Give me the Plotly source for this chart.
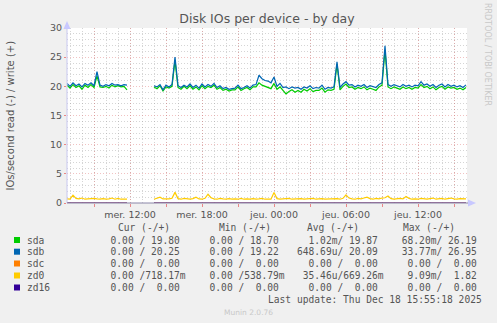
import plotly.graph_objects as go
import pandas as pd

# ---------------- data (15-minute samples, Wed 06:45 -> Thu 16:00) ----------------
start_time = "2025-12-17 06:45"
n_points = 134
times = pd.date_range(start_time, periods=n_points, freq="15min")

N = None
sdb = [20.5, 20.0, 20.6, 20.1, 20.4, 19.9, 20.5, 20.2, 20.6, 20.1,
       22.5, 20.2, 20.0, 20.3, 20.1, 20.5, 20.2, 20.3, 20.1, 20.3,
       20.2, N, N, N, N, N, N, N, N, 20.1,
       19.9, 20.3, 19.4, 20.2, 19.9, 20.3, 25.0, 20.1, 19.8, 20.2,
       19.9, 20.4, 19.8, 20.2, 19.7, 20.4, 19.9, 20.3, 20.0, 20.5,
       19.8, 20.1, 19.6, 19.8, 19.5, 19.6, 19.7, 20.2, 19.6, 19.8,
       20.1, 19.7, 20.2, 20.3, 21.9, 21.3, 21.0, 20.9, 20.6, 21.6,
       20.0, 20.5, 19.8, 19.9, 19.6, 19.9, 19.7, 19.8, 19.5, 19.9,
       19.7, 20.1, 19.6, 19.8, 19.7, 20.2, 19.5, 19.8, 19.7, 19.9,
       24.2, 19.8, 20.4, 20.8, 20.2, 20.3, 19.9, 20.2, 20.0, 20.3,
       19.8, 20.1, 20.0, 19.8, 20.3, 20.6, 26.95, 20.3, 20.0, 20.3,
       20.1, 19.9, 20.3, 20.0, 20.2, 19.9, 20.2, 20.1, 20.8, 20.2,
       20.4, 20.0, 20.3, 19.8, 20.2, 20.4, 19.9, 20.3, 20.0, 20.2,
       19.9, 20.1, 19.8, 20.25]

sda = [20.2, 19.7, 20.3, 19.8, 20.1, 19.5, 20.2, 19.8, 20.3, 19.8,
       21.8, 19.9, 19.8, 20.0, 19.7, 20.2, 19.9, 20.1, 19.9, 20.0,
       19.4, N, N, N, N, N, N, N, N, 19.9,
       19.6, 20.1, 19.2, 19.9, 19.7, 20.0, 24.4, 19.8, 19.5, 20.0,
       19.6, 20.1, 19.5, 19.9, 19.4, 20.1, 19.6, 20.0, 19.8, 20.2,
       19.5, 19.8, 19.3, 19.5, 19.2, 19.4, 19.4, 19.9, 19.3, 19.6,
       19.8, 19.4, 19.9, 19.9, 20.6, 20.2, 20.0, 19.8, 19.6, 20.5,
       19.5, 19.9, 19.2, 18.7, 19.1, 19.4, 19.0, 19.3, 19.0, 19.5,
       19.2, 19.6, 19.1, 19.3, 19.3, 19.7, 19.0, 19.4, 19.3, 19.5,
       23.8, 19.4, 20.0, 20.4, 19.8, 19.9, 19.5, 19.8, 19.6, 19.9,
       19.4, 19.7, 19.5, 19.3, 19.9, 20.2, 26.19, 19.9, 19.6, 19.9,
       19.7, 19.5, 19.9, 19.6, 19.8, 19.5, 19.8, 19.7, 20.3, 19.8,
       20.0, 19.6, 19.9, 19.4, 19.8, 20.0, 19.5, 19.9, 19.7, 19.8,
       19.5, 19.7, 19.4, 19.8]

zd0 = [0.70, 0.65, 1.35, 0.80, 0.70, 0.85, 0.65, 0.70, 0.65, 0.80,
       0.70, 0.65, 0.75, 0.65, 0.70, 0.85, 0.65, 0.80, 0.65, 0.70,
       0.65, N, N, N, N, N, N, N, N, 0.65,
       0.80, 1.00, 0.70, 0.65, 0.70, 0.80, 1.82, 0.75, 0.65, 0.80,
       0.70, 0.65, 0.75, 1.00, 0.70, 0.65, 0.80, 1.50, 0.90, 0.70,
       0.65, 0.80, 0.70, 0.65, 0.75, 0.65, 0.70, 0.65, 0.80, 0.65,
       0.70, 0.65, 0.75, 0.65, 0.70, 0.80, 0.65, 0.70, 0.65, 1.80,
       0.75, 0.65, 0.70, 0.65, 0.80, 0.65, 0.70, 0.65, 0.75, 0.65,
       0.70, 0.65, 0.80, 0.65, 0.70, 0.75, 0.65, 0.70, 0.65, 0.80,
       0.75, 0.65, 0.80, 1.40, 0.85, 0.70, 0.65, 0.80, 0.70, 0.85,
       1.00, 0.75, 0.65, 0.80, 0.70, 0.85, 0.90, 1.20, 0.75, 0.65,
       0.70, 0.80, 0.70, 1.10, 0.80, 0.65, 0.70, 0.65, 0.80, 0.70,
       0.65, 0.75, 0.85, 0.65, 0.70, 0.80, 0.65, 0.70, 0.85, 0.70,
       0.65, 0.75, 0.70, 0.72]

# sdc and zd16 read 0.00 everywhere (gap kept)
gap = [i for i, v in enumerate(sda) if v is None]
sdc = [None if i in gap else 0.0 for i in range(n_points)]
zd16 = [None if i in gap else 0.0 for i in range(n_points)]

series_names = ["sda", "sdb", "sdc", "zd0", "zd16"]
series_colors = ["#00cc00", "#0066b3", "#ff8000", "#ffcc00", "#330099"]
series_values = [sda, sdb, sdc, zd0, zd16]

tick_vals = ["2025-12-17 09:00", "2025-12-17 12:00", "2025-12-17 15:00",
             "2025-12-17 18:00", "2025-12-17 21:00", "2025-12-18 00:00",
             "2025-12-18 03:00", "2025-12-18 06:00", "2025-12-18 09:00",
             "2025-12-18 12:00", "2025-12-18 15:00"]
tick_text = ["", "mer. 12:00", "", "mer. 18:00", "", "jeu. 00:00",
             "", "jeu. 06:00", "", "jeu. 12:00", ""]
x_range = ["2025-12-17 06:45", "2025-12-18 16:05"]

legend_headers = ["Cur (-/+)", "Min (-/+)", "Avg (-/+)", "Max (-/+)"]
legend_cur = ["  0.00 / 19.80 ", "  0.00 / 20.25 ", "  0.00 /  0.00 ", "  0.00 /718.17m", "  0.00 /  0.00 "]
legend_min = ["  0.00 / 18.70 ", "  0.00 / 19.22 ", "  0.00 /  0.00 ", "  0.00 /538.79m", "  0.00 /  0.00 "]
legend_avg = ["  1.02m/ 19.87 ", "648.69u/ 20.09 ", "  0.00 /  0.00 ", " 35.46u/669.26m", "  0.00 /  0.00 "]
legend_max = [" 68.20m/ 26.19 ", " 33.77m/ 26.95 ", "  0.00 /  0.00 ", "  9.09m/  1.82 ", "  0.00 /  0.00 "]

# ---------------- layout geometry ----------------
W, H = 497, 323
PL, PR, PT, PB = 67, 467, 28, 203


def px(x):
    return (x - PL) / (PR - PL)


def py(y):
    return (PB - y) / (PB - PT)


TXT = "#555555"
SANS = "DejaVu Sans"
MONO = "DejaVu Sans Mono"

fig = go.Figure()
for name, color, vals in zip(series_names, series_colors, series_values):
    fig.add_trace(go.Scatter(x=times, y=vals, mode="lines", name=name,
                             line=dict(color=color, width=1.2), connectgaps=False,
                             showlegend=False))

major_grid = "rgba(225,120,120,0.45)"
minor_grid = "rgba(150,150,150,0.4)"

fig.update_layout(
    width=W, height=H,
    margin=dict(l=PL, r=W - PR, t=PT, b=H - PB, pad=0),
    paper_bgcolor="#f0f0f0", plot_bgcolor="#ffffff",
    showlegend=False,
    title=dict(text="Disk IOs per device - by day", x=0.5, xanchor="center",
               y=1 - 19 / H, yanchor="middle", xref="paper",
               font=dict(family=SANS, size=12.5, color=TXT)),
    xaxis=dict(type="date", range=x_range, tickmode="array", tickvals=tick_vals,
               ticktext=tick_text, showgrid=True, gridcolor=major_grid,
               griddash="1px,2px", gridwidth=1, ticks="outside", ticklen=3,
               tickcolor="rgba(230,90,90,0.7)", showline=False, zeroline=False,
               tickfont=dict(family=SANS, size=9.5, color=TXT),
               minor=dict(dtick=3600000, tick0="2025-12-17 00:00", showgrid=True,
                          gridcolor=minor_grid, griddash="1px,2px", gridwidth=1,
                          ticks=""),
               fixedrange=True),
    yaxis=dict(range=[0, 30], tickmode="linear", tick0=0, dtick=5, showgrid=True,
               gridcolor=major_grid, griddash="1px,2px", gridwidth=1,
               ticks="outside", ticklen=2, tickcolor="rgba(230,90,90,0.7)",
               zeroline=False, showline=False,
               tickfont=dict(family=SANS, size=9.5, color=TXT),
               minor=dict(dtick=1, showgrid=True, gridcolor=minor_grid,
                          griddash="1px,2px", gridwidth=1, ticks=""),
               fixedrange=True),
)

shapes = []
# axes lines and arrows
shapes.append(dict(type="line", xref="paper", yref="paper", x0=px(PL), x1=px(PL),
                   y0=py(PB), y1=py(24), line=dict(color="#c8c8f0", width=1)))
shapes.append(dict(type="path", xref="paper", yref="paper",
                   path=f"M {px(PL-3.5)} {py(29)} L {px(PL+3.5)} {py(29)} L {px(PL)} {py(21)} Z",
                   fillcolor="#c8c8ff", line=dict(width=0)))
shapes.append(dict(type="line", xref="paper", yref="paper", x0=px(PL), x1=px(469),
                   y0=py(PB), y1=py(PB), line=dict(color="#8a86a8", width=1)))
shapes.append(dict(type="path", xref="paper", yref="paper",
                   path=f"M {px(468)} {py(PB-3.5)} L {px(468)} {py(PB+3.5)} L {px(476)} {py(PB)} Z",
                   fillcolor="#c8c8ff", line=dict(width=0)))

ann = []
ann.append(dict(text="IOs/second read (-) / write (+)", textangle=-90, xref="paper",
                yref="paper", x=px(10), y=py(115.5), xanchor="center", yanchor="middle",
                showarrow=False, font=dict(family=SANS, size=10, color=TXT)))
ann.append(dict(text="RRDTOOL / TOBI OETIKER", textangle=90, xref="paper", yref="paper",
                x=px(488), y=py(54), xanchor="center", yanchor="middle", showarrow=False,
                font=dict(family=SANS, size=8, color="#c8c8c8")))

row_y = [240, 251.7, 263.5, 275.5, 287.5]
col_x = [97, 196, 295, 394]
head_x = [116, 217, 305, 401]
NB = "\u00a0"


def nb(s):
    return s.replace(" ", NB)


for hx, h in zip(head_x, legend_headers):
    ann.append(dict(text=nb(h), xref="paper", yref="paper", x=px(hx), y=py(227),
                    xanchor="left", yanchor="middle", showarrow=False,
                    font=dict(family=MONO, size=9.6, color=TXT)))

for i, (name, color) in enumerate(zip(series_names, series_colors)):
    yy = row_y[i]
    shapes.append(dict(type="rect", xref="paper", yref="paper", x0=px(14), x1=px(20),
                       y0=py(yy + 3), y1=py(yy - 3), fillcolor=color, line=dict(width=0)))
    ann.append(dict(text=name, xref="paper", yref="paper", x=px(25), y=py(yy),
                    xanchor="left", yanchor="middle", showarrow=False,
                    font=dict(family=MONO, size=9.6, color=TXT)))
    for cx, col in zip(col_x, [legend_cur, legend_min, legend_avg, legend_max]):
        ann.append(dict(text=nb(col[i]), xref="paper", yref="paper", x=px(cx), y=py(yy),
                        xanchor="left", yanchor="middle", showarrow=False,
                        font=dict(family=MONO, size=9.6, color=TXT)))

ann.append(dict(text=nb("Last update: Thu Dec 18 15:55:18 2025"), xref="paper", yref="paper",
                x=px(484), y=py(299.5), xanchor="right", yanchor="middle", showarrow=False,
                font=dict(family=MONO, size=9.6, color=TXT)))
ann.append(dict(text="Munin 2.0.76", xref="paper", yref="paper",
                x=px(248), y=py(312.5), xanchor="center", yanchor="middle", showarrow=False,
                font=dict(family=SANS, size=7.5, color="#c8c8c8")))

fig.update_layout(shapes=shapes, annotations=ann)
fig.write_html("out.html")
